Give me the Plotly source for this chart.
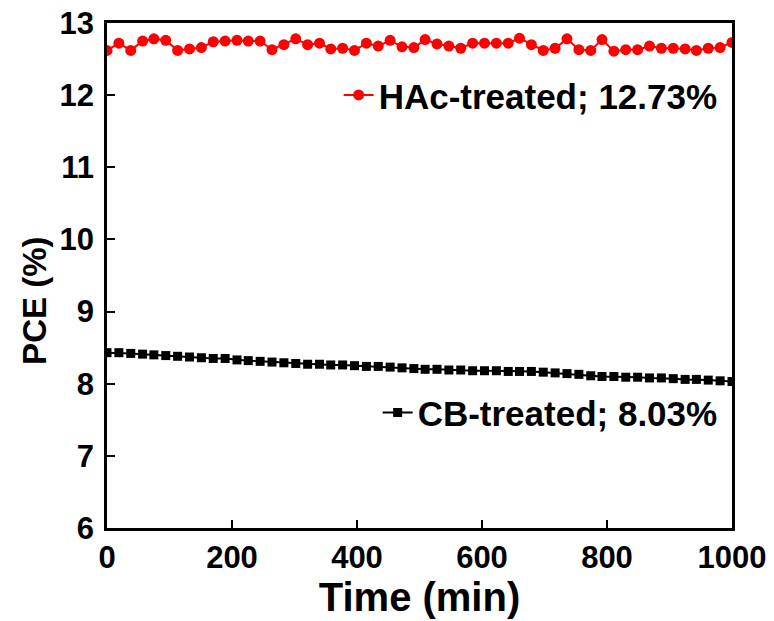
import plotly.graph_objects as go

time_min = [0, 19, 38, 57, 75, 94, 113, 132, 151, 170, 189, 208, 226, 245, 264, 283, 302, 321,
            340, 358, 377, 396, 415, 434, 453, 472, 491, 509, 528, 547, 566, 585, 604, 623,
            642, 660, 679, 698, 717, 736, 755, 774, 792, 811, 830, 849, 868, 887, 906, 925,
            943, 962, 981, 1000]

pce_hac = [12.62, 12.72, 12.62, 12.75, 12.78, 12.76, 12.62, 12.64, 12.66, 12.74, 12.75, 12.76,
           12.75, 12.75, 12.63, 12.70, 12.78, 12.70, 12.72, 12.64, 12.65, 12.62, 12.72, 12.68,
           12.76, 12.67, 12.66, 12.77, 12.71, 12.68, 12.65, 12.72, 12.72, 12.72, 12.72, 12.79,
           12.70, 12.62, 12.65, 12.78, 12.63, 12.62, 12.77, 12.61, 12.63, 12.63, 12.68, 12.65,
           12.65, 12.64, 12.62, 12.65, 12.66, 12.73]

pce_cb = [8.43, 8.43, 8.42, 8.41, 8.40, 8.39, 8.38, 8.37, 8.36, 8.35, 8.35, 8.33, 8.32, 8.31,
          8.30, 8.29, 8.28, 8.27, 8.27, 8.26, 8.26, 8.25, 8.24, 8.24, 8.23, 8.22, 8.21, 8.20,
          8.20, 8.19, 8.19, 8.18, 8.18, 8.18, 8.17, 8.17, 8.17, 8.16, 8.15, 8.14, 8.13, 8.11,
          8.10, 8.10, 8.09, 8.09, 8.08, 8.08, 8.07, 8.06, 8.06, 8.05, 8.04, 8.03]

label_hac = "HAc-treated; 12.73%"
label_cb = "CB-treated; 8.03%"
x_title = "Time (min)"
y_title = "PCE (%)"

FONT = "Arial, Liberation Sans, sans-serif"

fig = go.Figure()
fig.add_trace(go.Scatter(
    x=time_min, y=pce_hac, mode="lines+markers", name=label_hac,
    line=dict(color="#ff0000", width=2),
    marker=dict(symbol="circle", size=11, color="#ff0000"),
    legend="legend",
))
fig.add_trace(go.Scatter(
    x=time_min, y=pce_cb, mode="lines+markers", name=label_cb,
    line=dict(color="#000000", width=2),
    marker=dict(symbol="square", size=9, color="#000000"),
    legend="legend2",
))

axis_common = dict(
    showline=True, linecolor="black", linewidth=2.5, mirror=True,
    ticks="inside", ticklen=8, tickwidth=2, tickcolor="black",
    showgrid=False, zeroline=False, automargin=False,
    tickfont=dict(family=FONT, size=31, color="black", weight="bold"),
)

fig.update_layout(
    width=774, height=621,
    margin=dict(l=107, r=42, t=23, b=93),
    paper_bgcolor="white", plot_bgcolor="white",
    font=dict(family=FONT, color="black"),
    xaxis=dict(range=[0, 1000], tickvals=[0, 200, 400, 600, 800, 1000],
               title=dict(text=x_title, font=dict(family=FONT, size=40, weight="bold"),
                          standoff=4),
               **axis_common),
    yaxis=dict(range=[6, 13], tickvals=[6, 7, 8, 9, 10, 11, 12, 13],
               ticklabelstandoff=4,
               **axis_common),
    legend=dict(x=0.985, xanchor="right", y=0.857, yanchor="middle",
                bgcolor="rgba(0,0,0,0)", borderwidth=0,
                font=dict(family=FONT, size=35, color="black", weight="bold")),
    legend2=dict(x=0.985, xanchor="right", y=0.228, yanchor="middle",
                 bgcolor="rgba(0,0,0,0)", borderwidth=0,
                 font=dict(family=FONT, size=35, color="black", weight="bold")),
    showlegend=True,
    annotations=[dict(text=y_title, textangle=-90, xref="paper", yref="paper",
                      x=-0.115, y=0.45, xanchor="center", yanchor="middle",
                      showarrow=False,
                      font=dict(family=FONT, size=33, color="black", weight="bold"))],
)

fig.write_html("out.html")
